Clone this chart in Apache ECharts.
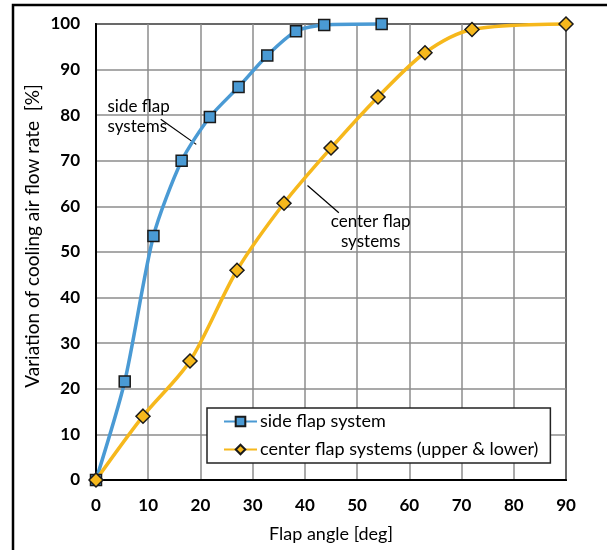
<!DOCTYPE html>
<html>
<head>
<meta charset="utf-8">
<script src="https://cdn.jsdelivr.net/npm/echarts@6/dist/echarts.min.js"></script>
<style>
  html, body { margin: 0; padding: 0; background: #fff; }
  #echarts { width: 607px; height: 550px; }
</style>
</head>
<body>
<div id="echarts"></div>
<script>
// data
var sideAngle = [0, 5.5, 11, 16.4, 21.8, 27.3, 32.8, 38.3, 43.7, 54.7];
var sideFlow = [0, 21.6, 53.5, 70, 79.6, 86.2, 93.1, 98.4, 99.8, 100];
var centerAngle = [0, 9, 18, 27, 36, 45, 54, 63, 72, 90];
var centerFlow = [0, 14, 26.1, 46, 60.7, 72.8, 84, 93.7, 98.8, 100];
var seriesNames = ['side flap system', 'center flap systems (upper & lower)'];

function pairs(xs, ys) {
    return xs.map(function (x, i) { return [x, ys[i]]; });
}

var font = 'Lato, "Open Sans", sans-serif';
var myChart = echarts.init(document.getElementById('echarts'));

option = {
    backgroundColor: '#fff',
    textStyle: { fontFamily: font, color: '#000' },
    grid: { left: 96, right: 41, top: 24, bottom: 70, show: true, borderColor: '#000', borderWidth: 2 },
    legend: {
        orient: 'vertical',
        left: 207,
        top: 408,
        padding: [3, 12, 3, 16],
        itemGap: 7,
        itemWidth: 33,
        itemHeight: 12,
        backgroundColor: '#fff',
        borderColor: '#222',
        borderWidth: 1.5,
        borderRadius: 0,
        data: seriesNames,
        textStyle: { fontFamily: font, fontSize: 18, color: '#000', lineHeight: 21, padding: [0, 0, 0, -2] }
    },
    xAxis: {
        type: 'value',
        min: 0, max: 90, interval: 10,
        name: 'Flap angle [deg]',
        nameLocation: 'middle',
        nameGap: 45,
        nameTextStyle: { fontFamily: font, fontSize: 18, color: '#000' },
        axisLine: { lineStyle: { color: '#000', width: 2 } },
        axisTick: { show: false },
        axisLabel: { fontFamily: font, fontSize: 17, fontWeight: 'bold', color: '#000', margin: 17 },
        splitLine: { lineStyle: { color: '#8c8c8c', width: 1.5 } }
    },
    yAxis: {
        type: 'value',
        min: 0, max: 100, interval: 10,
        axisLine: { lineStyle: { color: '#000', width: 2 } },
        axisTick: { show: false },
        axisLabel: { fontFamily: font, fontSize: 17, fontWeight: 'bold', color: '#000', margin: 16 },
        splitLine: { lineStyle: { color: '#8c8c8c', width: 1.5 } }
    },
    series: [
        {
            name: seriesNames[0],
            type: 'line',
            smooth: 0.25,
            clip: false,
            data: pairs(sideAngle, sideFlow),
            symbol: 'rect',
            symbolSize: 11,
            lineStyle: { color: '#4a9ad4', width: 3.5 },
            itemStyle: { color: '#4a9ad4', borderColor: '#1a1a1a', borderWidth: 1.5 }
        },
        {
            name: seriesNames[1],
            type: 'line',
            smooth: 0.3,
            clip: false,
            data: pairs(centerAngle, centerFlow),
            symbol: 'diamond',
            symbolSize: 14,
            lineStyle: { color: '#f6b81c', width: 3.5 },
            itemStyle: { color: '#f6b81c', borderColor: '#1a1a1a', borderWidth: 1.5 }
        }
    ]
};

myChart.setOption(option);

// annotations, y title and the outer frame; annotation spots go through the chart's scales
function px(p) { return myChart.convertToPixel({ gridIndex: 0 }, p); }
var a1 = px([12.4, 79.1]), a2 = px([19.2, 73.6]), t1 = px([2.2, 79.7]);
var b1 = px([40.5, 64.6]), b2 = px([46.5, 58.6]), t2 = px([52.6, 54.4]);

myChart.setOption({
    graphic: [
        { type: 'rect', shape: { x: 13, y: 5, width: 640, height: 600 }, style: { fill: null, stroke: '#000', lineWidth: 2.5 }, silent: true },
        { type: 'text', x: 33, y: 236, rotation: Math.PI / 2,
          style: { text: 'Variation of cooling air flow rate  [%]', font: '19px ' + font, fill: '#000', align: 'center', verticalAlign: 'middle' } },
        { type: 'line', shape: { x1: a1[0], y1: a1[1], x2: a2[0], y2: a2[1] }, style: { stroke: '#000', lineWidth: 1.2 } },
        { type: 'text', x: t1[0], y: t1[1], style: { text: 'side flap\nsystems', font: '17px ' + font, fill: '#000', lineHeight: 20, verticalAlign: 'middle', align: 'left' } },
        { type: 'line', shape: { x1: b1[0], y1: b1[1], x2: b2[0], y2: b2[1] }, style: { stroke: '#000', lineWidth: 1.2 } },
        { type: 'text', x: t2[0], y: t2[1], style: { text: 'center flap\nsystems', font: '17px ' + font, fill: '#000', lineHeight: 20, verticalAlign: 'middle', align: 'center' } }
    ]
});
</script>
</body>
</html>
